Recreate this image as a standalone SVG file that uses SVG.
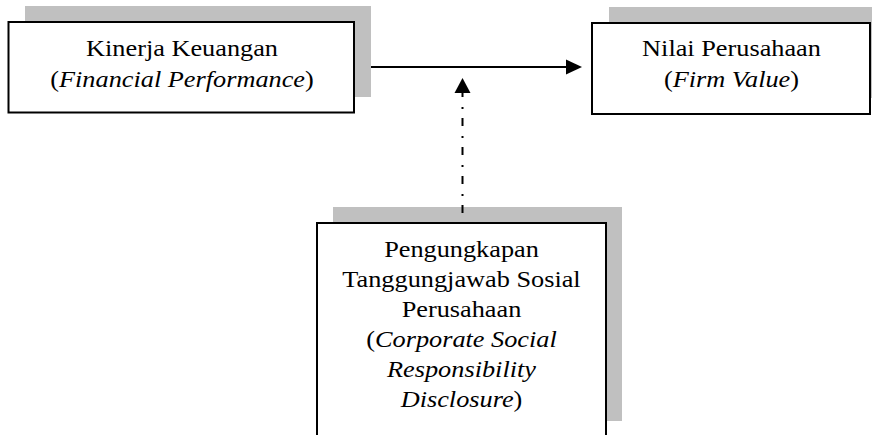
<svg xmlns="http://www.w3.org/2000/svg" width="872" height="435" viewBox="0 0 872 435">
<style>
.shadow{fill:#c0c0c0;stroke:none}
.box{fill:#fff;stroke:#000;stroke-width:2}
.t{font-size:23.7px;fill:#000;text-anchor:middle}
.i{font-style:italic}
.conn{stroke:#000;stroke-width:2;fill:none}
</style>
<rect width="872" height="435" fill="#fff"/>
<g id="kinerja" font-family="Liberation Serif, Times New Roman, serif">
<rect class="shadow" x="25" y="6" width="346" height="91"/>
<rect class="box" x="8.5" y="22" width="345.5" height="90.5"/>
<g transform="translate(182,0) scale(1.11,1)">
<text class="t" x="0" y="56">Kinerja Keuangan</text>
<text class="t" x="0" y="87">(<tspan class="i">Financial Performance</tspan>)</text>
</g>
</g>
<g id="nilai" font-family="Liberation Serif, Times New Roman, serif">
<rect class="shadow" x="609" y="7" width="280" height="91"/>
<rect class="box" x="592" y="23" width="278" height="91"/>
<g transform="translate(731.5,0) scale(1.11,1)">
<text class="t" x="0" y="56">Nilai Perusahaan</text>
<text class="t" x="0" y="87">(<tspan class="i">Firm Value</tspan>)</text>
</g>
</g>
<g id="csr" font-family="Liberation Serif, Times New Roman, serif">
<rect class="shadow" x="333" y="207" width="289" height="214"/>
<rect class="box" x="317" y="223" width="289" height="220"/>
<g transform="translate(461.5,0) scale(1.11,1)">
<text class="t" x="0" y="257">Pengungkapan</text>
<text class="t" x="0" y="287">Tanggungjawab Sosial</text>
<text class="t" x="0" y="317">Perusahaan</text>
<text class="t" x="0" y="347">(<tspan class="i">Corporate Social</tspan></text>
<text class="t i" x="0" y="377">Responsibility</text>
<text class="t" x="0" y="407"><tspan class="i">Disclosure</tspan>)</text>
</g>
</g>
<g id="connectors">
<line class="conn" x1="371" y1="67" x2="568" y2="67"/>
<polygon points="566,59.5 582,67 566,74.5" fill="#000"/>
<line class="conn" x1="462.5" y1="213" x2="462.5" y2="93" stroke-width="2.5" stroke-dasharray="8 9 2 10"/>
<polygon points="454.5,93 462.5,78 470.5,93" fill="#000"/>
</g>
</svg>
